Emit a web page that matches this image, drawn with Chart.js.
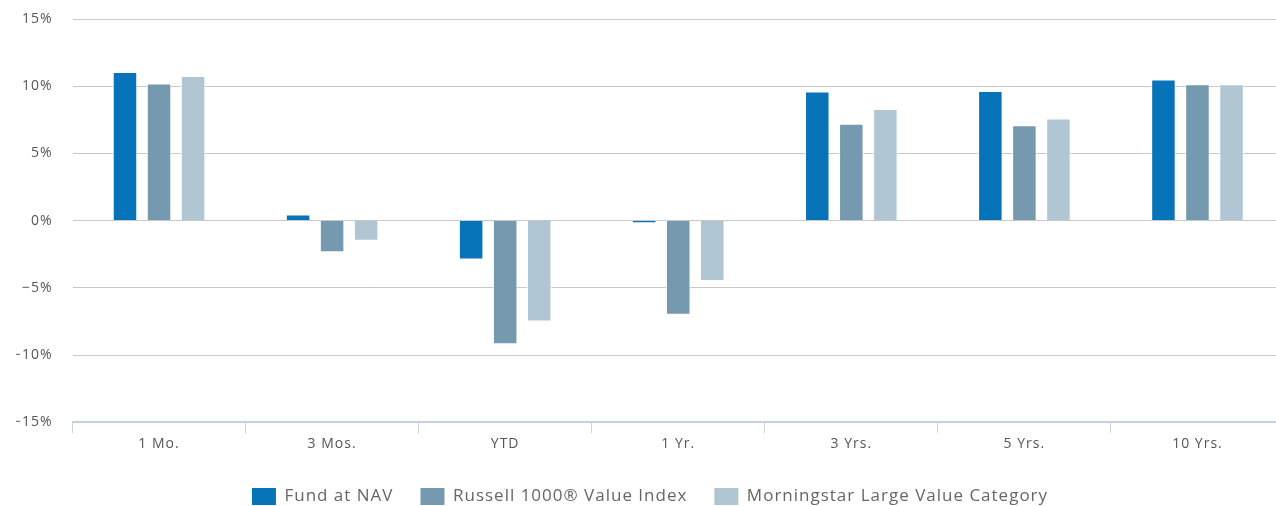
<!DOCTYPE html>
<html>
<head>
<meta charset="utf-8">
<script src="https://cdn.jsdelivr.net/npm/chart.js@4.4.1/dist/chart.umd.min.js"></script>
<style>
  html, body { margin: 0; padding: 0; background: #fff; overflow: hidden; }
  #wrap { position: absolute; left: 0; top: 0; width: 1285px; height: 506px; }
</style>
</head>
<body>
<div id="wrap"><canvas id="c"></canvas></div>
<script>
const categories = ['1 Mo.', '3 Mos.', 'YTD', '1 Yr.', '3 Yrs.', '5 Yrs.', '10 Yrs.'];
const fundAtNav = [11.05, 0.45, -2.9, -0.2, 9.6, 9.65, 10.5];
const russell1000Value = [10.2, -2.35, -9.2, -7.0, 7.2, 7.1, 10.15];
const morningstarLargeValue = [10.75, -1.5, -7.5, -4.5, 8.3, 7.6, 10.15];
const seriesNames = ['Fund at NAV', 'Russell 1000® Value Index', 'Morningstar Large Value Category'];
const yTicks = [-15, -10, -5, 0, 5, 10, 15];

const colors = ['#0773b8', '#7599ae', '#b0c7d3'];

const spacingPlugin = {
  id: 'spacing',
  beforeLayout(chart) { chart.ctx.letterSpacing = '1px'; },
  beforeDraw(chart) { chart.ctx.letterSpacing = '1px'; },
  beforeDatasetsDraw(chart) { chart.ctx.letterSpacing = '1px'; }
};

const mk = (label, data, color) => ({
  label, data,
  backgroundColor: color,
  borderColor: 'rgba(255,255,255,0.9)',
  borderWidth: 1,
  borderSkipped: 'start',
  categoryPercentage: 0.59,
  barPercentage: 0.72
});

new Chart(document.getElementById('c'), {
  type: 'bar',
  data: {
    labels: categories,
    datasets: [
      mk(seriesNames[0], fundAtNav, colors[0]),
      mk(seriesNames[1], russell1000Value, colors[1]),
      mk(seriesNames[2], morningstarLargeValue, colors[2])
    ]
  },
  plugins: [spacingPlugin],
  options: {
    responsive: true,
    maintainAspectRatio: false,
    animation: false,
    layout: { padding: { left: 16, right: 1, top: 19, bottom: -9 } },
    plugins: {
      tooltip: { enabled: false },
      legend: {
        position: 'bottom',
        title: {
          display: true,
          text: '',
          font: { size: 5, lineHeight: 1 },
          padding: { top: 2, bottom: 0 }
        },
        labels: {
          boxWidth: 24,
          boxHeight: 17,
          padding: 27,
          color: '#333',
          font: { family: 'Open Sans', size: 17 },
          generateLabels(chart) {
            return chart.data.datasets.map((d, i) => ({
              text: d.label,
              fillStyle: d.backgroundColor,
              strokeStyle: d.backgroundColor,
              lineWidth: 0,
              hidden: false,
              datasetIndex: i
            }));
          }
        }
      }
    },
    scales: {
      x: {
        offset: true,
        grid: {
          display: true,
          offset: true,
          drawOnChartArea: false,
          drawTicks: true,
          tickLength: 11,
          color: '#c9d5e2',
          lineWidth: 1
        },
        border: { display: true, color: '#c5d2e0', width: 2 },
        ticks: {
          color: '#555',
          font: { family: 'Open Sans', size: 14 },
          padding: 2
        }
      },
      y: {
        min: -15,
        max: 15,
        afterFit(scale) { scale.width = 56.5; scale.paddingTop = 0; scale.paddingBottom = 0; },
        afterBuildTicks(scale) { scale.ticks = yTicks.map(v => ({ value: v })); },
        grid: { color: '#c8c8c8', lineWidth: 1, drawTicks: false },
        border: { display: false },
        ticks: {
          padding: 20,
          color: '#555',
          font: { family: 'Open Sans', size: 14 },
          callback: v => String(v).replace('-', '\u2212') + '%'
        }
      }
    }
  }
});
</script>
</body>
</html>
